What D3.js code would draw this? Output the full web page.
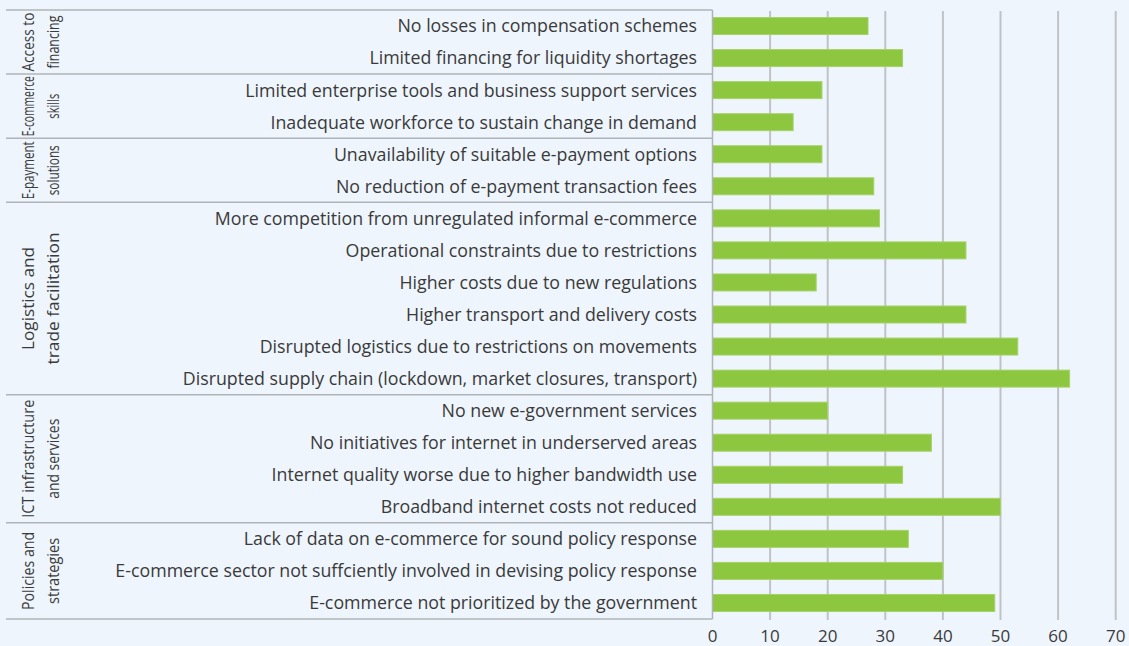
<!DOCTYPE html>
<html>
<head>
<meta charset="utf-8">
<script src="https://cdn.jsdelivr.net/npm/d3@7"></script>
<style>
  body { margin: 0; background: #eef5fc; }
</style>
</head>
<body>
<script>
'use strict';

// chart values, top to bottom
const categories = [
  "No losses in compensation schemes",
  "Limited financing for liquidity shortages",
  "Limited enterprise tools and business support services",
  "Inadequate workforce to sustain change in demand",
  "Unavailability of suitable e-payment options",
  "No reduction of e-payment transaction fees",
  "More competition from unregulated informal e-commerce",
  "Operational constraints due to restrictions",
  "Higher costs due to new regulations",
  "Higher transport and delivery costs",
  "Disrupted logistics due to restrictions on movements",
  "Disrupted supply chain (lockdown, market closures, transport)",
  "No new e-government services",
  "No initiatives for internet in underserved areas",
  "Internet quality worse due to higher bandwidth use",
  "Broadband internet costs not reduced",
  "Lack of data on e-commerce for sound policy response",
  "E-commerce sector not suffciently involved in devising policy response",
  "E-commerce not prioritized by the government"
];
const values = [27, 33, 19, 14, 19, 28, 29, 44, 18, 44, 53, 62, 20, 38, 33, 50, 34, 40, 49];

// groups: label lines and number of rows in each
const groupLines = [
  ["Access to", "financing"],
  ["E-commerce", "skills"],
  ["E-payment", "solutions"],
  ["Logistics and", "trade facilitation"],
  ["ICT infrastructure", "and services"],
  ["Policies and", "strategies"]
];
const groupSizes = [2, 2, 2, 6, 4, 3];
const xTicks = [0, 10, 20, 30, 40, 50, 60, 70];

(function() {

  let svgContainer = "";

  window.onload = function() {
    svgContainer = d3.select('body')
      .append('svg')
      .attr('width', 1129)
      .attr('height', 646)
      .style('display', 'block')
      .style('font-family', '"Open Sans", "Noto Sans", sans-serif');

    drawChart();
  }

  function drawChart() {
    // scales
    let xScale = d3.scaleLinear()
      .domain([0, 70])
      .range([712.5, 1115.7]);

    let yScale = d3.scaleBand()
      .domain(categories)
      .range([10, 619])
      .paddingInner(0.47)
      .paddingOuter(0.235);

    let step = yScale.step();
    let top = 10, bottom = 619;

    // gridlines
    svgContainer.append('g')
      .selectAll('line')
      .data(xTicks.slice(1))
      .enter()
      .append('line')
        .attr('x1', (d) => xScale(d))
        .attr('x2', (d) => xScale(d))
        .attr('y1', top + 1)
        .attr('y2', bottom + 1)
        .attr('stroke', '#bfc3c8')
        .attr('stroke-width', 2);

    // bars
    svgContainer.append('g')
      .selectAll('rect')
      .data(categories)
      .enter()
      .append('rect')
        .attr('x', xScale(0))
        .attr('y', (d) => yScale(d))
        .attr('width', (d, i) => xScale(values[i]) - xScale(0))
        .attr('height', yScale.bandwidth())
        .attr('fill', '#8dc63f')
        .attr('stroke', '#a6d26a')
        .attr('stroke-width', 1);

    // category labels
    svgContainer.append('g')
      .selectAll('text')
      .data(categories)
      .enter()
      .append('text')
        .attr('x', 697)
        .attr('y', (d) => yScale(d) + yScale.bandwidth() / 2)
        .attr('dy', '0.36em')
        .attr('text-anchor', 'end')
        .style('font-size', '17.8px')
        .attr('fill', '#3a3a3a')
        .text((d) => d);

    // group separators
    let bounds = [top];
    let acc = 0;
    groupSizes.forEach((n) => {
      acc += n;
      bounds.push(top + acc * step);
    });

    svgContainer.append('g')
      .selectAll('line')
      .data(bounds)
      .enter()
      .append('line')
        .attr('x1', 6)
        .attr('x2', xScale(0))
        .attr('y1', (d) => d)
        .attr('y2', (d) => d)
        .attr('stroke', '#b0b4b9')
        .attr('stroke-width', 1.5);

    // left border of bar area
    svgContainer.append('line')
      .attr('x1', xScale(0))
      .attr('x2', xScale(0))
      .attr('y1', top)
      .attr('y2', bottom)
      .attr('stroke', '#b0b4b9')
      .attr('stroke-width', 1.5);

    // group labels (rotated), lengths
    let lineLengths = [[59, 53], [60, 25], [58, 50], [103, 132], [118, 80], [78, 66]];
    groupLines.forEach((lines, g) => {
      let cy = (bounds[g] + bounds[g + 1]) / 2;
      let xs = [28, 53];
      lines.forEach((line, k) => {
        svgContainer.append('text')
          .attr('transform', 'translate(' + xs[k] + ',' + cy + ')rotate(-90)')
          .attr('text-anchor', 'middle')
          .attr('dy', '0.36em')
          .attr('textLength', lineLengths[g][k])
          .attr('lengthAdjust', 'spacingAndGlyphs')
          .style('font-size', g == 3 ? '17px' : '16px')
          .attr('fill', '#3a3a3a')
          .text(line);
      });
    });

    // x axis tick labels
    svgContainer.append('g')
      .selectAll('text')
      .data(xTicks)
      .enter()
      .append('text')
        .attr('x', (d) => xScale(d))
        .attr('y', 636)
        .attr('dy', '0.36em')
        .attr('text-anchor', 'middle')
        .style('font-size', '17px')
        .attr('fill', '#3a3a3a')
        .text((d) => d);
  }

})();
</script>
</body>
</html>
